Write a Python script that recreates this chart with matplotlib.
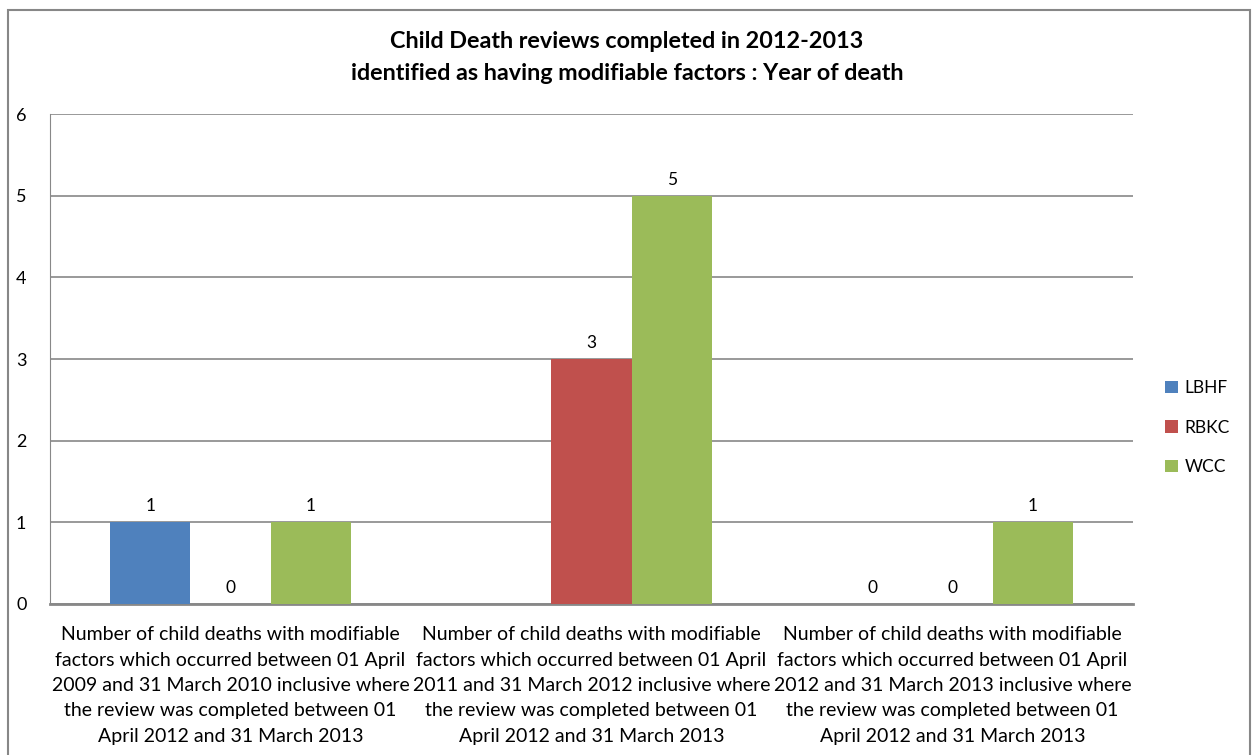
import matplotlib.pyplot as plt
import numpy as np
from matplotlib.patches import Rectangle

plt.rcParams["font.family"] = ["Lato", "DejaVu Sans"]

categories = [
    "Number of child deaths with modifiable\nfactors which occurred between 01 April\n"
    "2009 and 31 March 2010 inclusive where\nthe review was completed between 01\n"
    "April 2012 and 31 March 2013",
    "Number of child deaths with modifiable\nfactors which occurred between 01 April\n"
    "2011 and 31 March 2012 inclusive where\nthe review was completed between 01\n"
    "April 2012 and 31 March 2013",
    "Number of child deaths with modifiable\nfactors which occurred between 01 April\n"
    "2012 and 31 March 2013 inclusive where\nthe review was completed between 01\n"
    "April 2012 and 31 March 2013",
]
series_names = ["LBHF", "RBKC", "WCC"]
lbhf = [1, None, 0]
rbkc = [0, 3, 0]
wcc = [1, 5, 1]
colors = ["#4F81BD", "#C0504D", "#9BBB59"]

fig = plt.figure(figsize=(12.54, 7.55), dpi=100)
ax = fig.add_axes([50 / 1254, 1 - 604 / 755, 1083 / 1254, 490 / 755])

# outer chart border, bottom edge runs off the page
fig.patches.append(Rectangle((8 / 1254, -0.05), 1242 / 1254, 1.05 - 10 / 755,
                             transform=fig.transFigure, fill=False,
                             edgecolor="#878787", linewidth=1.5, zorder=0))

x = np.arange(len(categories))
width = 0.222
for i, (name, vals, c) in enumerate(zip(series_names, [lbhf, rbkc, wcc], colors)):
    pos = x + (i - 1) * width
    h = [np.nan if v is None else v for v in vals]
    ax.bar(pos, h, width=width, color=c, label=name, zorder=3)
    for p, v in zip(pos, vals):
        if v is None:
            continue
        ax.text(p, v + 0.1, str(v), ha="center", va="bottom", fontsize=12.5)

ax.set_xlim(-0.5, 2.5)
ax.set_ylim(0, 6)
ax.set_yticks(range(7))
ax.yaxis.grid(True, color="#888888", linewidth=1.2, zorder=0)
ax.set_axisbelow(True)
ax.tick_params(axis="y", length=0, pad=17, labelsize=13)
ax.tick_params(axis="x", length=0, pad=16)
ax.set_xticks(x)
ax.set_xticklabels(categories, fontsize=14, linespacing=1.6)

for s in ["top", "right"]:
    ax.spines[s].set_visible(False)
ax.spines["left"].set_color("#888888")
ax.spines["bottom"].set_color("#888888")
ax.spines["bottom"].set_linewidth(2)

fig.text(0.5, 1 - 42 / 755, "Child Death reviews completed in 2012-2013",
         ha="center", va="center", fontsize=16.8, fontweight="bold")
fig.text(0.5, 1 - 73 / 755, "identified as having modifiable factors : Year of death",
         ha="center", va="center", fontsize=16.8, fontweight="bold")

ax.legend(loc="center left", bbox_to_anchor=(1.015, 0.36), frameon=False,
          fontsize=12.5, handlelength=0.75, handleheight=0.75,
          labelspacing=1.35, handletextpad=0.4)

fig.savefig("out.png", dpi=100)
